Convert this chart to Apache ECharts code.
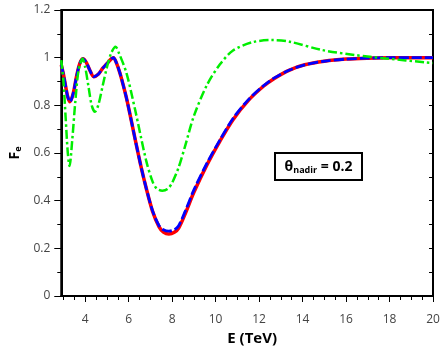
<!DOCTYPE html>
<html>
<head>
<meta charset="utf-8">
<script src="https://cdn.jsdelivr.net/npm/echarts@6/dist/echarts.min.js"></script>
<style>html,body{margin:0;padding:0;background:#fff}#c{width:444px;height:354px}</style>
</head>
<body>
<div id="c"></div>
<script>
// Energy (TeV) and Fe values
const redE  = [2.9,3.0,3.1,3.2,3.3,3.45,3.6,3.75,3.9,4.05,4.2,4.4,4.6,4.8,5.0,5.2,5.3,5.45,5.6,5.75,5.9,6.1,6.35,6.6,6.8,7.1,7.4,7.6,7.85,8.1,8.3,8.6,9.0,9.6,10.2,10.8,11.5,12.2,12.7,13.4,14.1,15.0,16.0,17.0,18.0,19.0,20.0];
const redF  = [0.97,0.93,0.88,0.835,0.815,0.85,0.92,0.975,0.995,0.98,0.95,0.92,0.93,0.955,0.975,0.995,1.0,0.975,0.935,0.885,0.83,0.745,0.635,0.53,0.455,0.355,0.29,0.268,0.26,0.267,0.285,0.345,0.435,0.55,0.65,0.74,0.82,0.88,0.913,0.948,0.97,0.985,0.994,0.998,1.0,1.0,1.0];
const blueE = redE;
const blueF = [0.97,0.93,0.88,0.835,0.815,0.85,0.92,0.975,0.995,0.98,0.95,0.92,0.93,0.955,0.975,0.995,1.0,0.975,0.935,0.885,0.83,0.745,0.635,0.53,0.455,0.357,0.295,0.278,0.272,0.278,0.295,0.355,0.445,0.557,0.655,0.745,0.823,0.882,0.915,0.948,0.97,0.985,0.994,0.998,1.0,1.0,1.0];
const greenE = [2.9,3.0,3.1,3.2,3.28,3.4,3.55,3.7,3.88,4.0,4.15,4.3,4.45,4.6,4.8,5.0,5.2,5.4,5.55,5.9,6.3,6.8,7.1,7.3,7.55,7.8,8.0,8.3,8.6,9.0,9.6,10.2,10.8,11.7,12.6,13.4,14.9,16.4,17.8,19.7,20.0];
const greenF = [0.99,0.90,0.75,0.60,0.545,0.65,0.82,0.95,0.995,0.96,0.88,0.80,0.773,0.80,0.88,0.96,1.02,1.046,1.02,0.935,0.78,0.57,0.48,0.45,0.442,0.45,0.475,0.54,0.63,0.755,0.885,0.972,1.03,1.065,1.074,1.067,1.032,1.011,0.997,0.98,0.978];
const xMajorTicks = [4,6,8,10,12,14,16,18,20];
const xMinorTicks = [3,3.5,4.5,5,5.5,6.5,7,7.5,8.5,9,9.5,10.5,11,11.5,12.5,13,13.5,14.5,15,15.5,16.5,17,17.5,18.5,19,19.5];

const pair = (xs, ys) => xs.map((x, i) => [x, ys[i]]);
const FONT = 'Open Sans';
const chart = echarts.init(document.getElementById('c'), null, {renderer: 'canvas'});
chart.setOption({
  animation: false,
  backgroundColor: '#fff',
  grid: {left: 54, right: 11, top: 10, bottom: 58, show: true, borderColor: '#000', borderWidth: 2, backgroundColor: 'transparent'},
  xAxis: [{
    type: 'value', min: 2.9, max: 20, position: 'bottom',
    axisLine: {show: true, onZero: false, lineStyle: {color: '#000', width: 2}},
    axisTick: {show: true, customValues: xMajorTicks, length: 6, lineStyle: {color: '#000', width: 1}},
    axisLabel: {customValues: xMajorTicks, margin: 18, color: '#444', fontSize: 12, fontFamily: FONT},
    splitLine: {show: false},
    name: 'E (TeV)', nameLocation: 'middle', nameGap: 34,
    nameTextStyle: {fontSize: 15, fontWeight: 'bold', color: '#000', fontFamily: FONT, padding: [0,0,0,10]}
  }, {
    type: 'value', min: 2.9, max: 20, position: 'bottom',
    axisLine: {show: false, onZero: false},
    axisTick: {show: true, customValues: xMinorTicks, length: 4, lineStyle: {color: '#000', width: 1}},
    axisLabel: {show: false},
    splitLine: {show: false}
  }],
  yAxis: [{
    type: 'value', min: 0, max: 1.2, interval: 0.2, position: 'left',
    axisLine: {show: true, lineStyle: {color: '#000', width: 2}},
    axisTick: {show: true, length: 7, lineStyle: {color: '#000', width: 1}},
    minorTick: {show: true, splitNumber: 2, length: 4, lineStyle: {color: '#000', width: 1}},
    axisLabel: {margin: 11, color: '#444', fontSize: 12, fontFamily: FONT, formatter: v => String(+v.toFixed(1))},
    splitLine: {show: false},
    name: '{f|F}{s|e}', nameLocation: 'middle', nameGap: 37, nameRotate: 90,
    nameTextStyle: {rich: {
      f: {fontSize: 14, fontWeight: 'bold', color: '#000', fontFamily: FONT},
      s: {fontSize: 9, fontWeight: 'bold', color: '#000', fontFamily: FONT, verticalAlign: 'bottom', padding: [6,0,0,0]}
    }}
  }, {
    type: 'value', min: 0, max: 1.2, interval: 0.1, position: 'right',
    axisLine: {show: true, lineStyle: {color: '#000', width: 2}},
    axisTick: {show: true, inside: true, length: 4, lineStyle: {color: '#000', width: 1}},
    axisLabel: {show: false},
    splitLine: {show: false}
  }],
  series: [{
    type: 'line', data: pair(redE, redF), smooth: 0.3, symbol: 'none',
    lineStyle: {color: '#ff0000', width: 3.5}
  }, {
    type: 'line', data: pair(blueE, blueF), smooth: 0.3, symbol: 'none',
    lineStyle: {color: '#0000ff', width: 2.8, type: [10, 3]}
  }, {
    type: 'line', data: pair(greenE, greenF), smooth: 0.3, symbol: 'none',
    lineStyle: {color: '#00ee00', width: 2.5, type: [9, 3, 2.5, 3]}
  }],
  graphic: [{
    type: 'group', left: 274, top: 152,
    children: [{
      type: 'rect', shape: {x: 0, y: 0, width: 87, height: 27},
      style: {fill: '#fff', stroke: '#000', lineWidth: 2}
    }, {
      type: 'text', x: 43.5, y: 14,
      style: {
        text: '{a|θ}{b|nadir}{a| = 0.2}', align: 'center', verticalAlign: 'middle',
        rich: {
          a: {fontSize: 14, fontWeight: 'bold', fill: '#000', fontFamily: FONT},
          b: {fontSize: 9, fontWeight: 'bold', fill: '#000', fontFamily: FONT, padding: [7,0,0,0]}
        }
      }
    }]
  }]
});
</script>
</body>
</html>
